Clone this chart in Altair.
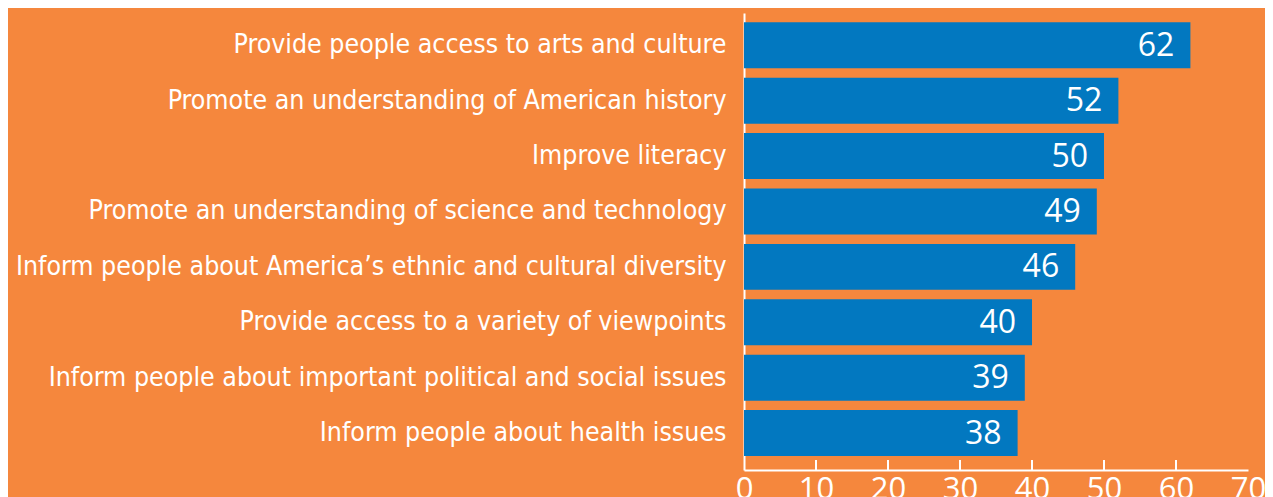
import altair as alt
import pandas as pd

categories = [
    "Provide people access to arts and culture",
    "Promote an understanding of American history",
    "Improve literacy",
    "Promote an understanding of science and technology",
    "Inform people about America\u2019s ethnic and cultural diversity",
    "Provide access to a variety of viewpoints",
    "Inform people about important political and social issues",
    "Inform people about health issues",
]
values = [62, 52, 50, 49, 46, 40, 39, 38]
tick_values = [0, 10, 20, 30, 40, 50, 60, 70]
inner_ticks = [10, 20, 30, 40, 50, 60]

df = pd.DataFrame({"category": categories, "value": values})
ticks_df = pd.DataFrame({"t": inner_ticks})

W, H = 504, 457
ORANGE = "#F5873D"
BLUE = "#0278C0"
LABEL_FONT = "DejaVu Sans Condensed, Roboto, sans-serif"

x_scale = alt.Scale(domain=[0, 70], nice=False, zero=True)
y_scale = alt.Scale(paddingInner=0.17, paddingOuter=0.21, align=0.4)

bars = alt.Chart(df).mark_bar(color=BLUE).encode(
    x=alt.X("value:Q", scale=x_scale,
            axis=alt.Axis(values=tick_values, title=None, domainColor="white",
                          domainWidth=2, ticks=False, labelColor="white",
                          labelFont="Open Sans", labelFontSize=31,
                          labelPadding=4, grid=False, labelFlush=False)),
    y=alt.Y("category:N", sort=None, scale=y_scale,
            axis=alt.Axis(title=None, domainColor="white", domainWidth=2,
                          ticks=False, labelColor="white",
                          labelFont=LABEL_FONT, labelFontSize=26.5,
                          labelPadding=18, labelLimit=1000)),
)

text = alt.Chart(df).mark_text(align="right", baseline="middle", dx=-16, dy=0.5,
                               color="white", font="Open Sans", fontSize=32).encode(
    x=alt.X("value:Q", scale=x_scale),
    y=alt.Y("category:N", sort=None, scale=y_scale),
    text=alt.Text("value:Q"),
)

tick_rules = alt.Chart(ticks_df).mark_rule(color="white", strokeWidth=2).encode(
    x=alt.X("t:Q", scale=x_scale),
    y=alt.value(H - 10),
    y2=alt.value(H),
)

chart = alt.layer(bars, text, tick_rules).properties(
    width=W, height=H,
    background=ORANGE,
    autosize=alt.AutoSizeParams(type="none"),
    padding={"left": 736, "top": 5, "right": 17, "bottom": 27},
).configure_view(stroke=None)

chart.save("out.html", embed_options={"renderer": "svg", "actions": False})
